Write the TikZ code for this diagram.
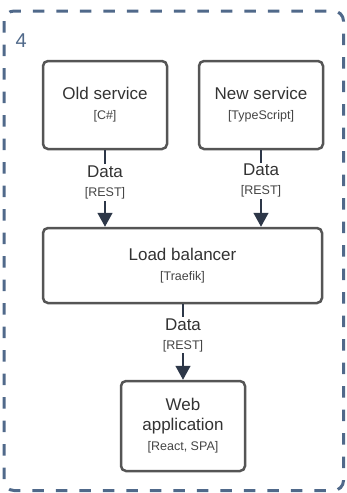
\documentclass[tikz,border=0pt]{standalone}
\usepackage{fontspec}
\setmainfont{Liberation Sans}
\usetikzlibrary{arrows.meta}
\definecolor{framecol}{HTML}{50698A}
\definecolor{boxline}{HTML}{555555}
\definecolor{txtcol}{HTML}{333333}
\definecolor{subcol}{HTML}{444444}
\definecolor{arrcol}{HTML}{2D3748}
\newcommand{\subtxt}[1]{{\fontsize{12.5}{20}\selectfont\color{subcol}#1}}
\begin{document}
\begin{tikzpicture}[x=1pt,y=-1pt,
  box/.style={draw=boxline, line width=2.5pt, rounded corners=5pt, fill=white,
    align=center, text=txtcol, font=\fontsize{17}{20}\selectfont, inner sep=0pt},
  conn/.style={draw=arrcol, line width=1.5pt, -{Triangle[length=14pt,width=15pt]}},
  lbl/.style={fill=white, align=center, text=txtcol, font=\fontsize{17}{19}\selectfont, inner sep=1.5pt}]
\useasboundingbox (0,0) rectangle (347,493);
\draw[framecol, line width=3pt, dash pattern=on 11.5pt off 12pt, rounded corners=10pt] (4,11) rectangle (343.5,490.5);
\node[text=framecol, font=\fontsize{20}{24}\selectfont, anchor=base west, inner sep=0pt] (num) at (15.5,47.5) {4};
\node[box, minimum width=124pt, minimum height=88pt] (old) at (105,105) {Old service\\\subtxt{[C\#]}};
\node[box, minimum width=124pt, minimum height=88pt] (new) at (261,105) {New service\\\subtxt{[TypeScript]}};
\node[box, minimum width=279pt, minimum height=75pt] (lb) at (182.5,265.5) {Load balancer\\\subtxt{[Traefik]}};
\node[box, minimum width=124pt, minimum height=90pt] (web) at (183,426) {Web\\application\\\subtxt{[React, SPA]}};
\draw[conn] (old.south) -- (old.south |- lb.north) node[lbl, pos=0.42] {Data\\\subtxt{[REST]}};
\draw[conn] (new.south) -- (new.south |- lb.north) node[lbl, pos=0.40] {Data\\\subtxt{[REST]}};
\draw[conn] (lb.south -| web.north) -- (web.north) node[lbl, pos=0.41] {Data\\\subtxt{[REST]}};
\end{tikzpicture}
\end{document}
